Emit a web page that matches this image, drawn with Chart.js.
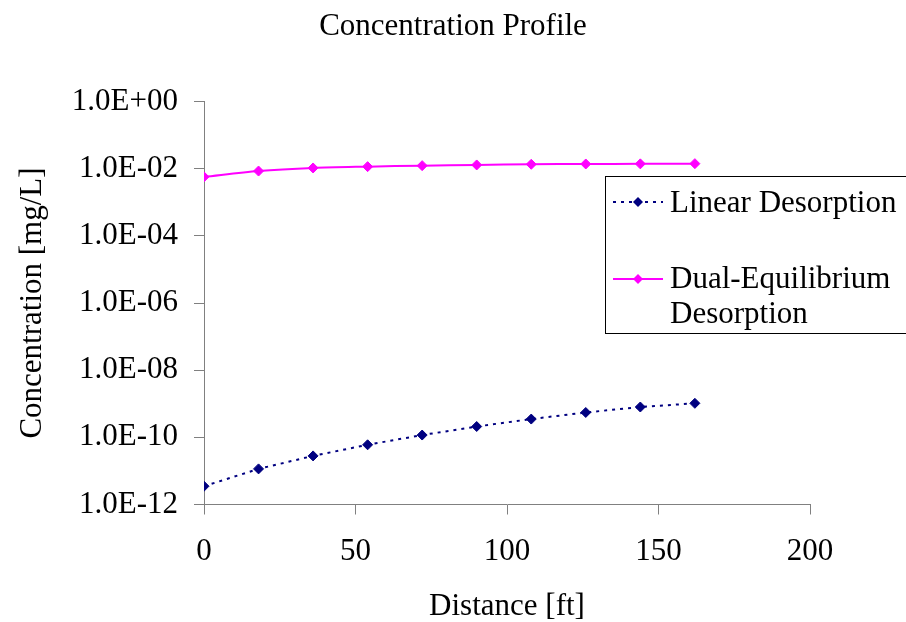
<!DOCTYPE html>
<html>
<head>
<meta charset="utf-8">
<script src="https://cdn.jsdelivr.net/npm/chart.js@4/dist/chart.umd.min.js"></script>
<style>
  html, body { margin: 0; padding: 0; background: #fff; }
  #wrap { width: 906px; height: 622px; position: relative; }
</style>
</head>
<body>
<div id="wrap"><canvas id="chart"></canvas></div>
<script>
const distance = [0, 18, 36, 54, 72, 90, 108, 126, 144, 162];
const linearDesorption = [3.5e-12, 1.15e-11, 2.8e-11, 6.0e-11, 1.17e-10, 2.1e-10, 3.5e-10, 5.5e-10, 8.0e-10, 1.03e-9];
const dualEquilibrium = [5.7e-3, 8.5e-3, 1.05e-2, 1.15e-2, 1.23e-2, 1.29e-2, 1.35e-2, 1.38e-2, 1.39e-2, 1.41e-2];
const seriesNames = ['Linear Desorption', ['Dual-Equilibrium', 'Desorption']];
const yTickValues = [1, 1e-2, 1e-4, 1e-6, 1e-8, 1e-10, 1e-12];
const yTickLabels = ['1.0E+00', '1.0E-02', '1.0E-04', '1.0E-06', '1.0E-08', '1.0E-10', '1.0E-12'];
const xTickValues = [0, 50, 100, 150, 200];

const FONT = 'Liberation Serif, "Times New Roman", serif';
const AXIS = '#808080';

// legend drawn by hand: the box runs off the right edge in the original
const boxLegend = {
  id: 'boxLegend',
  afterDraw(chart) {
    const ctx = chart.ctx;
    ctx.save();
    ctx.strokeStyle = '#000';
    ctx.lineWidth = 1;
    ctx.strokeRect(605.5, 176.5, 320, 157);
    const rows = [{ y: 202, base: [212] }, { y: 279, base: [288, 323] }];
    chart.data.datasets.forEach((ds, i) => {
      const r = rows[i];
      ctx.strokeStyle = ds.borderColor;
      ctx.lineWidth = ds.borderWidth;
      ctx.setLineDash(ds.borderDash || []);
      ctx.beginPath();
      ctx.moveTo(613, r.y);
      ctx.lineTo(663, r.y);
      ctx.stroke();
      ctx.setLineDash([]);
      ctx.fillStyle = ds.pointBackgroundColor;
      ctx.beginPath();
      ctx.moveTo(638, r.y - 5);
      ctx.lineTo(643, r.y);
      ctx.lineTo(638, r.y + 5);
      ctx.lineTo(633, r.y);
      ctx.closePath();
      ctx.fill();
      ctx.fillStyle = '#000';
      ctx.font = '31px ' + FONT;
      ctx.textBaseline = 'alphabetic';
      ctx.textAlign = 'left';
      const lines = [].concat(seriesNames[i]);
      lines.forEach((t, j) => ctx.fillText(t, 670, r.base[j]));
    });
    ctx.restore();
  }
};

new Chart(document.getElementById('chart'), {
  type: 'line',
  data: {
    labels: distance,
    datasets: [
      {
        label: 'Linear Desorption',
        data: distance.map((d, i) => ({ x: d, y: linearDesorption[i] })),
        borderColor: '#000080',
        backgroundColor: '#000080',
        pointBackgroundColor: '#000080',
        pointBorderColor: '#000080',
        borderWidth: 2,
        borderDash: [3, 5],
        pointStyle: 'rectRot',
        pointRadius: 5,
        pointBorderWidth: 1,
        tension: 0
      },
      {
        label: 'Dual-Equilibrium Desorption',
        data: distance.map((d, i) => ({ x: d, y: dualEquilibrium[i] })),
        borderColor: '#FF00FF',
        backgroundColor: '#FF00FF',
        pointBackgroundColor: '#FF00FF',
        pointBorderColor: '#FF00FF',
        borderWidth: 2,
        pointStyle: 'rectRot',
        pointRadius: 5,
        pointBorderWidth: 1,
        tension: 0.3
      }
    ]
  },
  options: {
    responsive: true,
    maintainAspectRatio: false,
    animation: false,
    layout: { padding: 0 },
    plugins: {
      legend: { display: false },
      tooltip: { enabled: false },
      title: {
        display: true,
        text: 'Concentration Profile',
        color: '#000',
        font: { family: FONT, size: 31, weight: 'normal', lineHeight: 1.2 },
        padding: { top: 8, bottom: 56.3 }
      }
    },
    scales: {
      x: {
        type: 'linear',
        min: 0,
        max: 200,
        afterBuildTicks: s => { s.ticks = xTickValues.map(v => ({ value: v })); },
        afterFit: s => { s.height = 117.5; },
        border: { color: AXIS, width: 1 },
        grid: { drawOnChartArea: false, drawTicks: true, tickLength: 10, color: AXIS },
        ticks: { color: '#000', padding: 19, maxRotation: 0, font: { family: FONT, size: 31 } },
        title: {
          display: true,
          text: 'Distance [ft]',
          color: '#000',
          font: { family: FONT, size: 31, lineHeight: 1.0 },
          padding: { top: 0, bottom: 0 }
        }
      },
      y: {
        type: 'logarithmic',
        min: 1e-12,
        max: 1,
        afterBuildTicks: s => { s.ticks = yTickValues.map(v => ({ value: v })); },
        afterFit: s => { s.width = 204; },
        border: { color: AXIS, width: 1 },
        grid: { drawOnChartArea: false, drawTicks: true, tickLength: 10, color: AXIS },
        ticks: {
          color: '#000',
          padding: 16,
          font: { family: FONT, size: 31 },
          callback: (v, i) => yTickLabels[i]
        },
        title: {
          display: true,
          text: 'Concentration [mg/L]',
          color: '#000',
          font: { family: FONT, size: 31, lineHeight: 1.2 },
          padding: { top: 14, bottom: 0 }
        }
      },
      // empty right-hand strip so the title still centres on the whole canvas
      spacer: {
        type: 'linear',
        position: 'right',
        display: true,
        afterFit: s => { s.width = 96; },
        border: { display: false },
        grid: { display: false },
        ticks: { display: false }
      }
    }
  },
  plugins: [boxLegend]
});
</script>
</body>
</html>
